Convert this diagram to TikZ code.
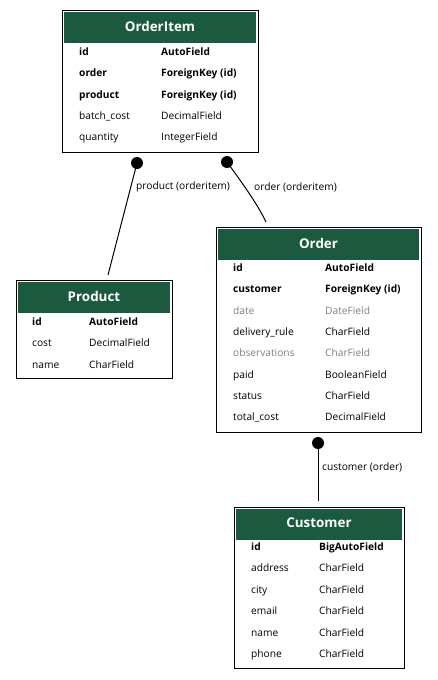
\documentclass[tikz,border=0pt]{standalone}
\usepackage{fontspec}
\setmainfont{Open Sans}
\definecolor{hdr}{HTML}{1B5A3F}
\definecolor{dim}{HTML}{808080}
\tikzset{
  tbl/.style={draw=black, line width=1.2pt, fill=white, inner sep=0pt, anchor=north west},
  hdrbox/.style={fill=hdr, inner sep=0pt, anchor=north west},
  title/.style={text=white, inner sep=0pt, font=\bfseries\fontsize{13.4}{15}\selectfont},
  fld/.style={anchor=base west, inner sep=0pt, font=\fontsize{10.2}{12}\selectfont},
  key/.style={anchor=base west, inner sep=0pt, font=\bfseries\fontsize{10.2}{12}\selectfont},
  dimf/.style={fld, text=dim},
  rel/.style={line width=1pt},
  lbl/.style={anchor=west, inner sep=0pt, font=\fontsize{10.2}{12}\selectfont},
  dotc/.style={fill=black},
}
\begin{document}
\begin{tikzpicture}[x=1pt,y=-1pt]
\useasboundingbox (0,0) rectangle (437,680);

% ---------- OrderItem ----------
\node[tbl, minimum width=196pt, minimum height=142pt] (oi) at (62,10) {};
\node[hdrbox, minimum width=192pt, minimum height=31pt] (oih) at (64,12) {};
\node[title] (oit) at (160,26.5) {OrderItem};
\node[key] (oi1n) at (79,55.5) {id};
\node[key] (oi1t) at (161,55.5) {AutoField};
\node[key] (oi2n) at (79,76.75) {order};
\node[key] (oi2t) at (161,76.75) {ForeignKey (id)};
\node[key] (oi3n) at (79,98) {product};
\node[key] (oi3t) at (161,98) {ForeignKey (id)};
\node[fld] (oi4n) at (79,119.25) {batch\_cost};
\node[fld] (oi4t) at (161,119.25) {DecimalField};
\node[fld] (oi5n) at (79,140.5) {quantity};
\node[fld] (oi5t) at (161,140.5) {IntegerField};

% ---------- Product ----------
\node[tbl, minimum width=156pt, minimum height=98pt] (pr) at (16,280) {};
\node[hdrbox, minimum width=152pt, minimum height=31pt] (prh) at (18,282) {};
\node[title] (prt) at (94,296) {Product};
\node[key] (pr1n) at (32,325.5) {id};
\node[key] (pr1t) at (89,325.5) {AutoField};
\node[fld] (pr2n) at (32,346.75) {cost};
\node[fld] (pr2t) at (89,346.75) {DecimalField};
\node[fld] (pr3n) at (32,368) {name};
\node[fld] (pr3t) at (89,368) {CharField};

% ---------- Order ----------
\node[tbl, minimum width=205pt, minimum height=205pt] (or) at (216,227) {};
\node[hdrbox, minimum width=201pt, minimum height=31pt] (orh) at (218,229) {};
\node[title] (ort) at (318.5,243) {Order};
\node[key] (or1n) at (233,271.5) {id};
\node[key] (or1t) at (325,271.5) {AutoField};
\node[key] (or2n) at (233,292.8) {customer};
\node[key] (or2t) at (325,292.8) {ForeignKey (id)};
\node[dimf] (or3n) at (233,314.1) {date};
\node[dimf] (or3t) at (325,314.1) {DateField};
\node[fld] (or4n) at (233,335.4) {delivery\_rule};
\node[fld] (or4t) at (325,335.4) {CharField};
\node[dimf] (or5n) at (233,356.7) {observations};
\node[dimf] (or5t) at (325,356.7) {CharField};
\node[fld] (or6n) at (233,378) {paid};
\node[fld] (or6t) at (325,378) {BooleanField};
\node[fld] (or7n) at (233,399.3) {status};
\node[fld] (or7t) at (325,399.3) {CharField};
\node[fld] (or8n) at (233,420.6) {total\_cost};
\node[fld] (or8t) at (325,420.6) {DecimalField};

% ---------- Customer ----------
\node[tbl, minimum width=170pt, minimum height=161pt] (cu) at (234,507) {};
\node[hdrbox, minimum width=166pt, minimum height=31pt] (cuh) at (236,509) {};
\node[title] (cut) at (319,523) {Customer};
\node[key] (cu1n) at (251,550.5) {id};
\node[key] (cu1t) at (319,550.5) {BigAutoField};
\node[fld] (cu2n) at (251,571.9) {address};
\node[fld] (cu2t) at (319,571.9) {CharField};
\node[fld] (cu3n) at (251,593.3) {city};
\node[fld] (cu3t) at (319,593.3) {CharField};
\node[fld] (cu4n) at (251,614.7) {email};
\node[fld] (cu4t) at (319,614.7) {CharField};
\node[fld] (cu5n) at (251,636.1) {name};
\node[fld] (cu5t) at (319,636.1) {CharField};
\node[fld] (cu6n) at (251,657.5) {phone};
\node[fld] (cu6t) at (319,657.5) {CharField};

% ---------- relations ----------
\coordinate (d1) at (137,163);
\coordinate (e1) at (108,275);
\coordinate (d2) at (227,162);
\coordinate (e2) at (266,222);
\coordinate (d3) at (318,443);
\coordinate (e3) at (318,501);

\draw[rel] (d1) -- (e1);
\fill[dotc] (d1) circle (6);
\node[lbl] (l1) at (136,187) {product (orderitem)};

\draw[rel] (d2) .. controls (240,180) and (257,203) .. (e2);
\fill[dotc] (d2) circle (6);
\node[lbl] (l2) at (254,187) {order (orderitem)};

\draw[rel] (d3) -- (e3);
\fill[dotc] (d3) circle (6);
\node[lbl] (l3) at (322,467) {customer (order)};
\end{tikzpicture}
\end{document}
